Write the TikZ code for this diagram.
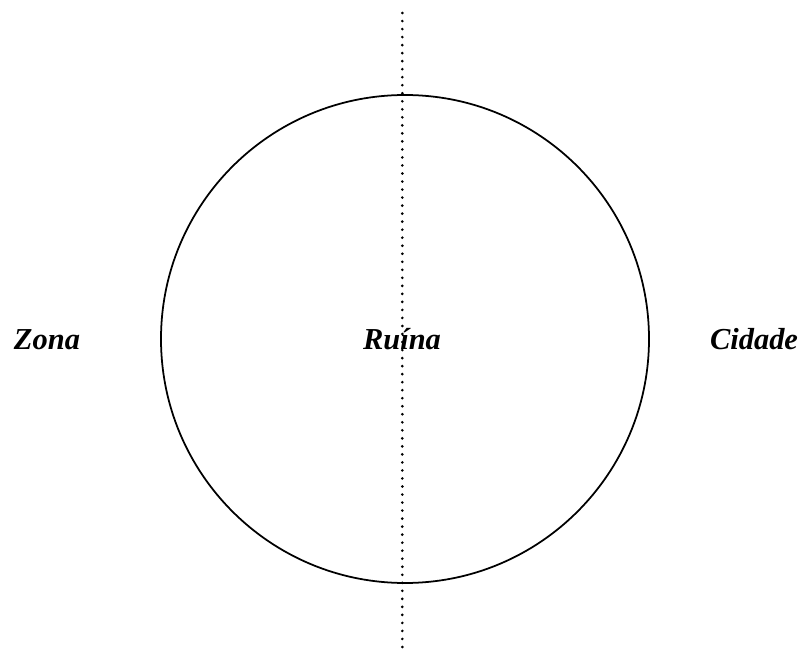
\documentclass[tikz,border=0pt]{standalone}
\usepackage{fontspec}
\setmainfont{Liberation Serif}
\usepackage{tikz}
\usetikzlibrary{positioning}

\begin{document}
\begin{tikzpicture}[x=0.03cm, y=-0.03cm,
    label/.style={font=\fontsize{26}{30}\selectfont\bfseries\itshape, inner sep=0pt, anchor=base},
    ring/.style={draw, line width=1.5pt},
    axis/.style={draw, line width=2.5pt, line cap=round, dash pattern=on 0pt off 6.85pt}]
    \useasboundingbox (0,0) rectangle (802,653);
    \node [ring, circle, minimum size=488*0.03cm, inner sep=0pt] (ruin) at (405,339) {};
    \coordinate (top) at (402.3,13);
    \coordinate (bottom) at (402.3,650);
    \path [axis] (top) -- (bottom);
    \node [label] (zona) at (47,350) {Zona};
    \node [label] (ruina) at (402,350) {Ruína};
    \node [label] (cidade) at (754,350) {Cidade};
\end{tikzpicture}
\end{document}
